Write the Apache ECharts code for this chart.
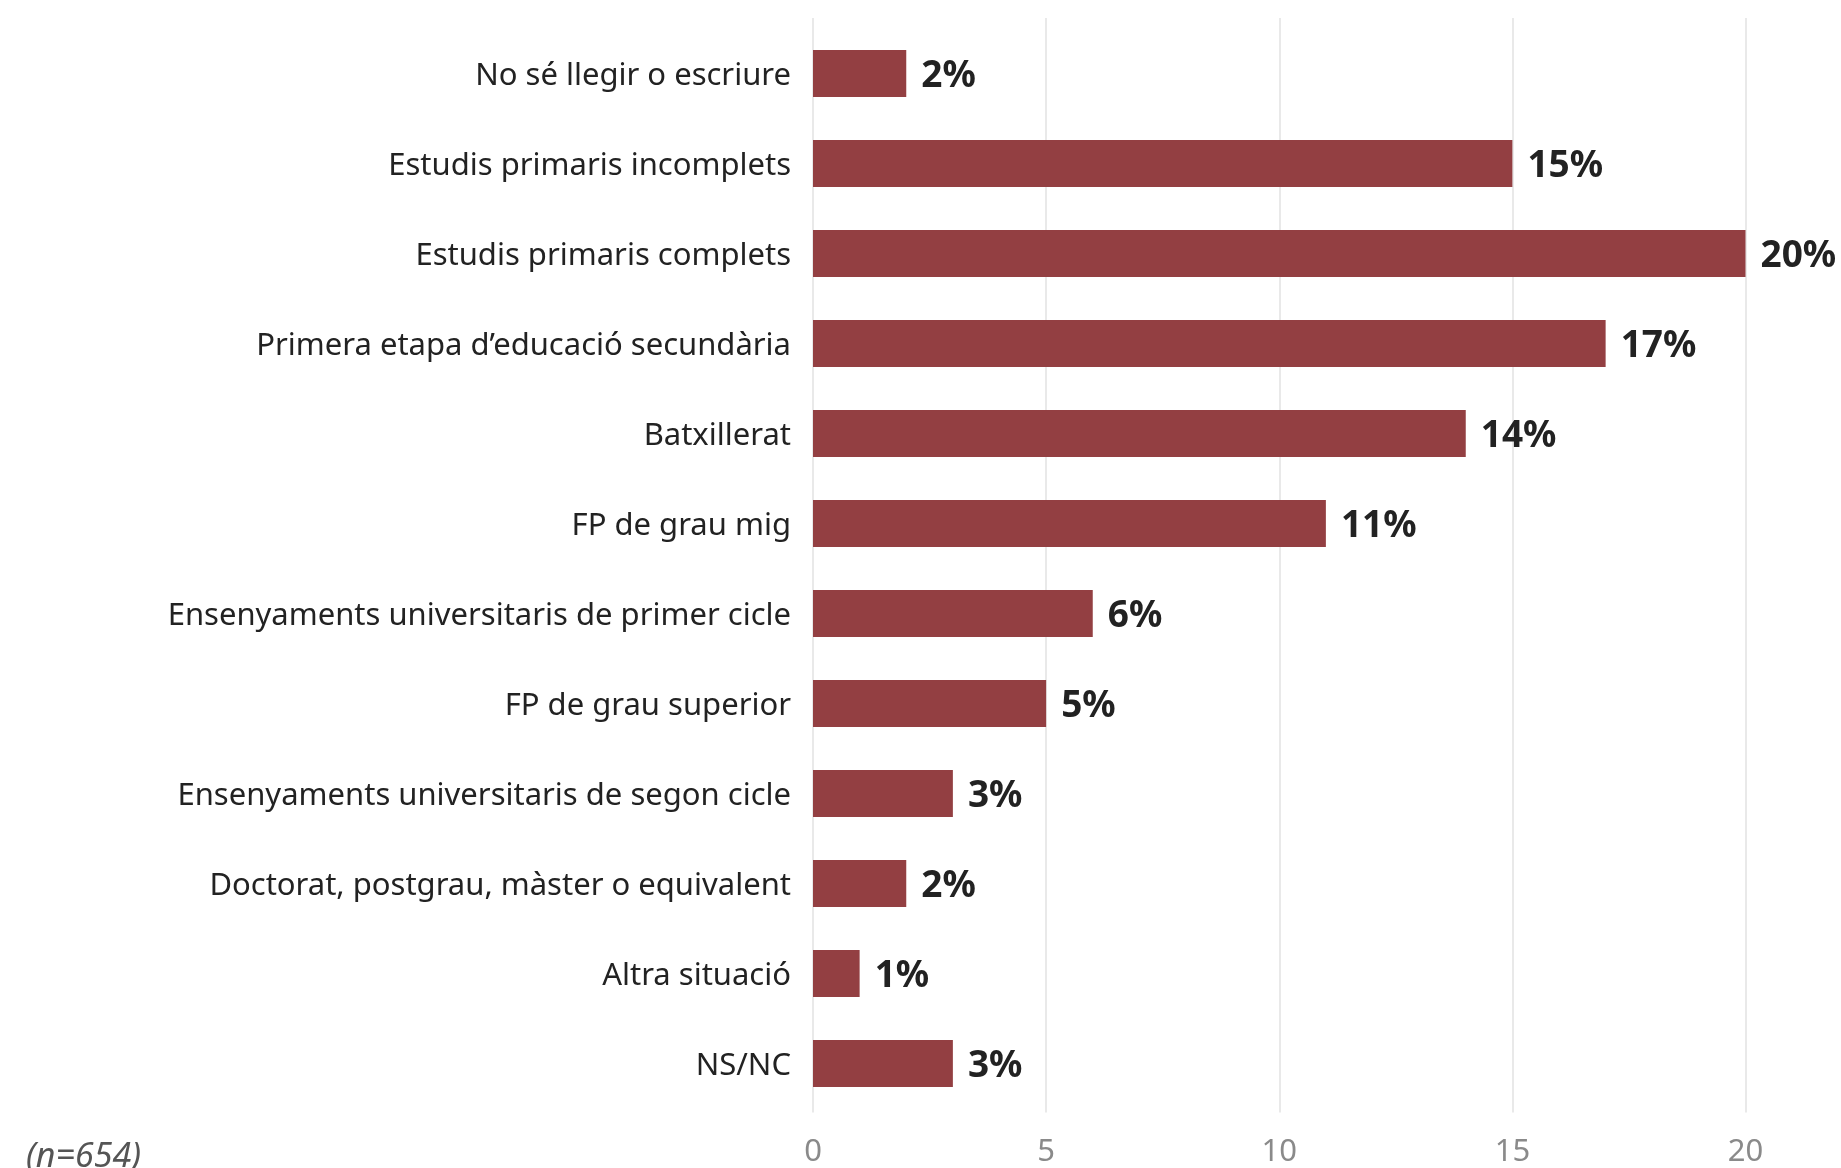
<!DOCTYPE html>
<html>
<head>
<meta charset="utf-8">
<script src="https://cdn.jsdelivr.net/npm/echarts@6/dist/echarts.min.js"></script>
<style>
html,body{margin:0;padding:0;background:#fff;}
#chart{width:1841px;height:1168px;}
</style>
</head>
<body>
<div id="chart"></div>
<script>
const categories = [
  "No sé llegir o escriure",
  "Estudis primaris incomplets",
  "Estudis primaris complets",
  "Primera etapa d’educació secundària",
  "Batxillerat",
  "FP de grau mig",
  "Ensenyaments universitaris de primer cicle",
  "FP de grau superior",
  "Ensenyaments universitaris de segon cicle",
  "Doctorat, postgrau, màster o equivalent",
  "Altra situació",
  "NS/NC"
];
const values = [2, 15, 20, 17, 14, 11, 6, 5, 3, 2, 1, 3];
const xTicks = [0, 5, 10, 15, 20];
const note = "(n=654)";

const FONT = "Noto Sans";
const chart = echarts.init(document.getElementById('chart'), null, {renderer: 'canvas'});
chart.setOption({
  animation: false,
  backgroundColor: '#ffffff',
  grid: [
    {left: 813, right: 95.5, top: 18, bottom: 50},
    {left: 813, right: 95.5, top: 28.5, bottom: 59.5}
  ],
  xAxis: [
    {
      gridIndex: 0, type: 'value', min: xTicks[0], max: xTicks[xTicks.length-1], interval: 5,
      axisLine: {show: false}, axisTick: {show: false},
      splitLine: {show: true, lineStyle: {color: '#e2e2e2', width: 1.5}},
      axisLabel: {color: '#8a8a8a', fontFamily: FONT, fontSize: 31, margin: 40, verticalAlign: 'middle'}
    },
    {
      gridIndex: 1, type: 'value', min: 0, max: 20, show: false,
      splitLine: {show: false}
    }
  ],
  yAxis: [
    {gridIndex: 0, type: 'value', show: false, splitLine: {show: false}},
    {
      gridIndex: 1, type: 'category', data: categories, inverse: true,
      axisLine: {show: false}, axisTick: {show: false},
      axisLabel: {
        margin: 22,
        formatter: v => '{c|' + v + '}',
        rich: {c: {color: '#222222', fontFamily: FONT, fontSize: 31, padding: [6, 0, 0, 0]}}
      }
    }
  ],
  graphic: [{
    type: 'text', x: 26, y: 1157,
    style: {text: note, fill: '#555555', font: 'italic 34px "Noto Sans"', textVerticalAlign: 'middle', verticalAlign: 'middle'}
  }],
  series: [{
    type: 'bar', xAxisIndex: 1, yAxisIndex: 1,
    data: values, barWidth: 47,
    itemStyle: {color: '#933f42'},
    label: {
      show: true, position: 'right', distance: 15, offset: [0, 3],
      formatter: p => p.value + '%',
      color: '#222222', fontFamily: FONT, fontWeight: 'bold', fontSize: 37
    }
  }]
});
</script>
</body>
</html>
